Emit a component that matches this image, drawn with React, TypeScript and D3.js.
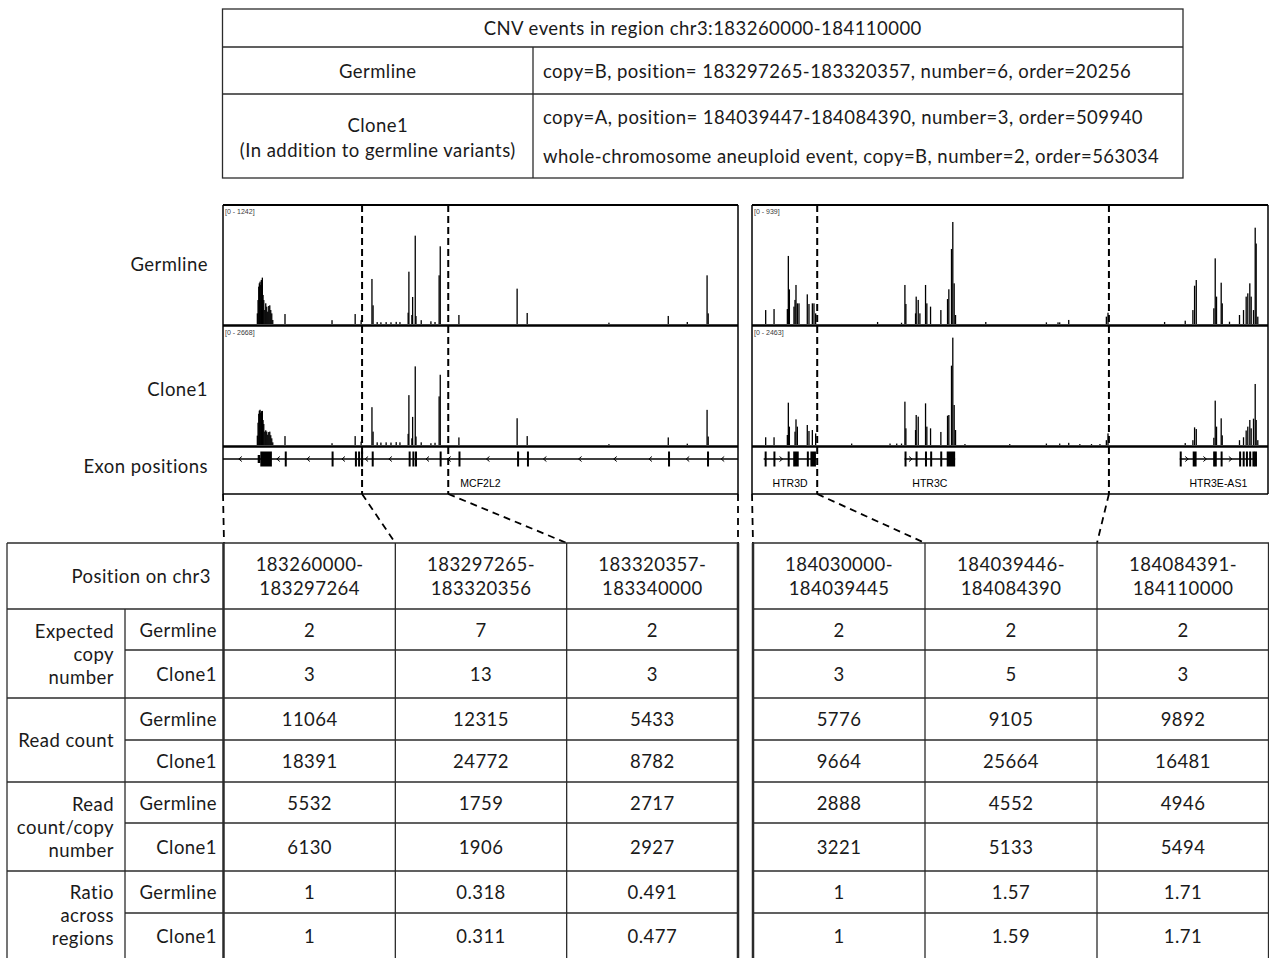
import React from "react";
import * as d3 from "d3";

// ---------- CNV event summary ----------
const regionTitle = "CNV events in region chr3:183260000-184110000";
const eventSamples = ["Germline", "Clone1"];
const eventSampleNotes = ["", "(In addition to germline variants)"];
const germlineEvents = ["copy=B, position= 183297265-183320357, number=6, order=20256"];
const clone1Events = [
  "copy=A, position= 184039447-184084390, number=3, order=509940",
  "whole-chromosome aneuploid event, copy=B, number=2, order=563034",
];

// ---------- coverage tracks ----------
const leftWindow: [number, number] = [183260000, 183398000];
const rightWindow: [number, number] = [184029400, 184108900];
const leftBreakpoints = [183297265, 183320357];
const rightBreakpoints = [184039446, 184084391];
const trackRowLabels = ["Germline", "Clone1", "Exon positions"];
const leftRangeMax = [1242, 2668];
const rightRangeMax = [939, 2463];

// [offset from window start (kb), read depth]
const leftGermlineCov: [number, number][] = [
  [9.19, 111], [9.38, 250], [9.57, 390], [9.73, 425], [9.92, 442], [10.1, 407], [10.26, 460],
  [10.53, 484], [10.72, 303], [10.91, 250], [11.18, 146], [11.44, 216], [11.71, 181], [11.98, 129],
  [12.25, 188], [12.52, 195], [12.78, 146], [13.05, 111], [13.32, 42],
  [16.6, 104], [29.2, 40], [35.4, 104], [37.0, 40], [39.9, 470], [40.2, 195],
  [41.3, 20], [42.3, 18], [43.7, 20], [45.0, 18], [46.4, 22], [47.4, 20],
  [49.6, 118], [49.8, 546], [50.6, 94], [50.8, 282], [51.5, 922], [51.7, 83], [53.1, 40],
  [55.7, 28], [56.8, 21], [57.9, 508], [58.2, 811], [63.2, 94], [78.8, 369], [81.5, 115],
  [103.4, 14], [119.3, 84], [124.4, 21], [129.7, 508], [130.0, 111],
];
const leftClone1Cov: [number, number][] = [
  [9.19, 210], [9.38, 500], [9.57, 700], [9.73, 770], [9.92, 790], [10.1, 720], [10.26, 760],
  [10.53, 765], [10.72, 560], [10.91, 470], [11.18, 300], [11.44, 330], [11.71, 300], [11.98, 230],
  [12.25, 290], [12.52, 300], [12.78, 220], [13.05, 150], [13.32, 60],
  [16.6, 200], [29.2, 40], [35.4, 200], [37.0, 75], [39.9, 848], [40.2, 300],
  [41.3, 60], [42.3, 55], [43.7, 60], [45.0, 55], [46.4, 65], [47.4, 60],
  [49.6, 250], [49.8, 1118], [50.6, 150], [50.8, 630], [51.5, 1763], [51.7, 190], [53.1, 60],
  [55.7, 40], [56.8, 50], [57.9, 1090], [58.2, 1575], [63.2, 170], [78.8, 600], [81.5, 200],
  [103.4, 20], [119.3, 170], [124.4, 30], [129.7, 788], [130.0, 190],
];
const rightGermlineCov: [number, number][] = [
  [2.1, 110], [3.39, 118], [5.44, 118], [5.59, 537], [5.75, 273], [6.46, 137], [6.62, 190],
  [6.77, 308], [6.98, 163], [7.23, 163], [8.51, 234], [8.77, 158], [9.29, 163], [9.54, 163],
  [9.8, 84], [19.34, 16], [23.03, 10], [23.55, 308], [23.7, 158], [25.19, 84], [25.29, 216],
  [25.6, 190], [25.86, 84], [26.73, 308], [26.93, 163], [27.5, 137], [29.09, 110], [30.12, 197],
  [30.32, 274], [30.73, 592], [30.93, 805], [31.14, 321], [31.35, 71], [36.01, 16], [45.35, 13],
  [47.14, 13], [47.4, 13], [48.79, 32], [54.59, 58], [54.84, 89], [63.56, 16], [66.74, 26],
  [67.92, 110], [68.18, 302], [68.44, 347], [71.15, 124], [71.36, 518], [71.56, 216], [72.28, 326],
  [72.44, 163], [73.56, 18], [75.1, 71], [75.72, 110], [76.13, 216], [76.38, 242], [76.69, 321],
  [76.9, 216], [77.26, 110], [77.52, 760], [77.67, 635], [77.92, 58],
];
const rightClone1Cov: [number, number][] = [
  [2.1, 160], [3.39, 160], [5.44, 207], [5.59, 876], [5.75, 380], [6.62, 276], [6.77, 531],
  [6.98, 380], [8.51, 414], [8.77, 290], [9.29, 310], [9.8, 240], [15.35, 30], [21.26, 30],
  [22.29, 30], [23.03, 30], [23.55, 897], [23.7, 345], [25.19, 310], [25.29, 621], [25.6, 587],
  [26.73, 862], [26.93, 380], [27.5, 345], [29.09, 270], [30.12, 607], [30.32, 621], [30.73, 1642],
  [30.93, 2222], [31.14, 828], [31.35, 310], [32.8, 20], [39.7, 20], [45.35, 30], [47.4, 30],
  [48.79, 45], [50.5, 20], [52.3, 20], [53.6, 20], [54.59, 100], [54.84, 240], [66.74, 40],
  [67.92, 100], [68.18, 365], [68.44, 330], [71.15, 150], [71.36, 918], [71.56, 380], [72.28, 552],
  [72.44, 200], [75.1, 100], [75.72, 160], [76.13, 300], [76.38, 380], [76.69, 518], [76.9, 345],
  [77.26, 545], [77.52, 1263], [77.67, 518], [77.92, 100],
];

// gene models: span and exons in kb from window start
type Exon = [number, number, "utr" | "cds"];
interface Gene { name: string; strand: "+" | "-"; span: [number, number]; exons: Exon[] }
const leftGenes: Gene[] = [
  {
    name: "MCF2L2", strand: "-", span: [-2, 140],
    exons: [
      [9.3, 10.0, "utr"], [10.0, 13.1, "cds"], [16.55, 16.65, "cds"], [29.1, 29.2, "cds"],
      [35.35, 35.45, "cds"], [36.2, 36.3, "cds"], [37.0, 37.1, "cds"], [39.85, 39.95, "cds"],
      [49.75, 49.85, "cds"], [50.75, 50.85, "cds"], [51.45, 51.55, "cds"], [58.05, 58.15, "cds"],
      [63.1, 63.2, "cds"], [78.8, 78.9, "cds"], [81.45, 81.55, "cds"], [119.25, 119.35, "cds"],
      [129.7, 129.8, "cds"],
    ],
  },
];
const rightGenes: Gene[] = [
  {
    name: "HTR3D", strand: "+", span: [1.8, 9.95],
    exons: [[1.95, 2.1, "cds"], [3.3, 3.45, "cds"], [5.5, 5.65, "cds"], [6.35, 7.2, "cds"],
      [8.45, 8.6, "cds"], [9.0, 9.85, "cds"]],
  },
  {
    name: "HTR3C", strand: "+", span: [23.5, 31.3],
    exons: [[23.5, 23.65, "cds"], [25.2, 25.35, "cds"], [26.65, 26.8, "cds"], [27.45, 27.6, "cds"],
      [29.0, 29.15, "cds"], [30.0, 31.3, "cds"]],
  },
  {
    name: "HTR3E-AS1", strand: "+", span: [65.9, 77.8],
    exons: [[65.9, 66.05, "cds"], [67.9, 68.5, "cds"], [71.05, 71.2, "cds"], [71.3, 71.55, "cds"],
      [72.2, 72.35, "cds"], [75.05, 75.2, "cds"], [75.6, 75.75, "cds"], [76.1, 76.25, "cds"],
      [76.6, 76.75, "cds"], [77.1, 77.25, "cds"], [77.35, 77.8, "cds"]],
  },
];

// ---------- per-region read summary ----------
const regionStarts = ["183260000-", "183297265-", "183320357-", "184030000-", "184039446-", "184084391-"];
const regionEnds = ["183297264", "183320356", "183340000", "184039445", "184084390", "184110000"];
const metricGroups = [
  ["Expected", "copy", "number"],
  ["Read count"],
  ["Read", "count/copy", "number"],
  ["Ratio", "across", "regions"],
];
const sampleNames = ["Germline", "Clone1"];
const expectedGermline = ["2", "7", "2", "2", "2", "2"];
const expectedClone1 = ["3", "13", "3", "3", "5", "3"];
const readGermline = ["11064", "12315", "5433", "5776", "9105", "9892"];
const readClone1 = ["18391", "24772", "8782", "9664", "25664", "16481"];
const perCopyGermline = ["5532", "1759", "2717", "2888", "4552", "4946"];
const perCopyClone1 = ["6130", "1906", "2927", "3221", "5133", "5494"];
const ratioGermline = ["1", "0.318", "0.491", "1", "1.57", "1.71"];
const ratioClone1 = ["1", "0.311", "0.477", "1", "1.59", "1.71"];

const FONT = "Lato, 'Open Sans', sans-serif";
const IGV_FONT = "'Liberation Sans Narrow', 'Liberation Sans', Arial, sans-serif";
const INK = "#1a1a1a";
const RULE = "#2b2b2b";
const FS = 18.5;
const LS = 0.45;

// ---------- layout ----------
const TOP = { x0: 222.5, x1: 1183, y0: 9, y1: 178, rows: [47, 94], split: 533 };
const TRACK = { top: 205, gBase: 324, sep1: 325.5, cTop: 326, cBase: 445, sep2: 446.5, gene: 459, bottom: 494 };
const PANELS = [
  { x0: 223, x1: 738, window: leftWindow, breaks: leftBreakpoints, max: leftRangeMax,
    cov: [leftGermlineCov, leftClone1Cov], genes: leftGenes },
  { x0: 752, x1: 1268, window: rightWindow, breaks: rightBreakpoints, max: rightRangeMax,
    cov: [rightGermlineCov, rightClone1Cov], genes: rightGenes },
];
const TABLE = {
  left: 7, labelSplit: 125, dataStart: 223.5, top: 543, header: 609,
  blocks: [[224, 738], [753, 1269]] as [number, number][],
  rowBounds: [609, 650, 698, 740, 782, 823, 871, 913, 958],
};

function CoverageTrack({ x, data, max, base, top }: {
  x: d3.ScaleLinear<number, number>; data: [number, number][]; max: number; base: number; top: number;
}) {
  const y = d3.scaleLinear().domain([0, max]).range([base, top]);
  return (
    <g>
      {data.map(([kb, v], i) => {
        const px = x(kb);
        return <rect key={i} x={px - 0.6} y={y(v)} width={1.3} height={base - y(v)} fill="#000" />;
      })}
    </g>
  );
}

function GeneTrack({ x, genes, x0, x1 }: {
  x: d3.ScaleLinear<number, number>; genes: Gene[]; x0: number; x1: number;
}) {
  const cy = TRACK.gene;
  return (
    <g>
      {genes.map((g) => {
        const s = Math.max(x0, x(g.span[0]));
        const e = Math.min(x1, x(g.span[1]));
        const exPx = g.exons.map(([a, b]) => [x(a), x(b)]);
        // strand chevrons in the intron gaps
        const arrows: number[] = [];
        const stops = [s, ...exPx.flat(), e].sort((a, b) => a - b);
        for (let i = 0; i + 1 < stops.length; i += 2) {
          const a = stops[i], b = stops[i + 1];
          const gap = b - a;
          if (gap < 10) continue;
          const n = Math.max(1, Math.floor(gap / 32));
          for (let k = 0; k < n; k++) arrows.push(a + (gap * (k + 0.5)) / n);
        }
        const labelX = (s + e) / 2;
        return (
          <g key={g.name}>
            <line x1={s} x2={e} y1={cy} y2={cy} stroke="#000" strokeWidth={1.3} />
            {arrows.map((ax, i) => (
              <path key={i}
                d={g.strand === "-" ? `M${ax + 1.5},${cy - 2.5}L${ax - 1.5},${cy}L${ax + 1.5},${cy + 2.5}`
                  : `M${ax - 1.5},${cy - 2.5}L${ax + 1.5},${cy}L${ax - 1.5},${cy + 2.5}`}
                fill="none" stroke="#000" strokeWidth={1} />
            ))}
            {g.exons.map(([a, b, kind], i) => {
              const w = Math.max(2, x(b) - x(a));
              const h = kind === "utr" ? 8 : 15;
              return <rect key={i} x={x(a)} y={cy - h / 2} width={w} height={h} fill="#000" />;
            })}
            <text x={labelX} y={TRACK.bottom - 7} textAnchor="middle" fontFamily={IGV_FONT}
              fontSize={10.5} fill="#000">{g.name}</text>
          </g>
        );
      })}
    </g>
  );
}

function Panel({ p }: { p: (typeof PANELS)[number] }) {
  const x = d3.scaleLinear().domain([0, (p.window[1] - p.window[0]) / 1000]).range([p.x0, p.x1]);
  const gx = d3.scaleLinear().domain(p.window).range([p.x0, p.x1]);
  return (
    <g>
      <CoverageTrack x={x} data={p.cov[0]} max={p.max[0]} base={TRACK.gBase} top={TRACK.top} />
      <CoverageTrack x={x} data={p.cov[1]} max={p.max[1]} base={TRACK.cBase} top={TRACK.cTop} />
      <GeneTrack x={x} genes={p.genes} x0={p.x0} x1={p.x1} />
      <text x={p.x0 + 2} y={TRACK.top + 9} fontFamily={IGV_FONT} fontSize={7} fill="#3a3a3a">{`[0 - ${p.max[0]}]`}</text>
      <text x={p.x0 + 2} y={TRACK.sep1 + 9} fontFamily={IGV_FONT} fontSize={7} fill="#3a3a3a">{`[0 - ${p.max[1]}]`}</text>
      {/* frame */}
      <line x1={p.x0} x2={p.x1} y1={TRACK.top} y2={TRACK.top} stroke="#000" strokeWidth={2} />
      <line x1={p.x0} x2={p.x1} y1={TRACK.sep1} y2={TRACK.sep1} stroke="#000" strokeWidth={2.5} />
      <line x1={p.x0} x2={p.x1} y1={TRACK.sep2} y2={TRACK.sep2} stroke="#000" strokeWidth={2.5} />
      <line x1={p.x0} x2={p.x1} y1={TRACK.bottom} y2={TRACK.bottom} stroke="#000" strokeWidth={1.5} />
      <line x1={p.x0} x2={p.x0} y1={TRACK.top} y2={TRACK.bottom} stroke="#000" strokeWidth={1.5} />
      <line x1={p.x1} x2={p.x1} y1={TRACK.top} y2={TRACK.bottom} stroke="#000" strokeWidth={1.5} />
      {/* breakpoints */}
      {p.breaks.map((b, i) => (
        <line key={i} x1={gx(b)} x2={gx(b)} y1={TRACK.top} y2={TRACK.bottom} stroke="#000"
          strokeWidth={2} strokeDasharray="7,4" />
      ))}
    </g>
  );
}

export default function App() {
  const leftX = d3.scaleLinear().domain(leftWindow).range([PANELS[0].x0, PANELS[0].x1]);
  const rightX = d3.scaleLinear().domain(rightWindow).range([PANELS[1].x0, PANELS[1].x1]);

  // table columns
  const colEdges: number[][] = TABLE.blocks.map(([a, b]) => d3.range(4).map((k) => a + ((b - a) * k) / 3));
  const cols = colEdges.flatMap((e) => [0, 1, 2].map((k) => [e[k], e[k + 1]]));
  const colCenter = cols.map(([a, b]) => (a + b) / 2);

  const valueRows = [expectedGermline, expectedClone1, readGermline, readClone1,
    perCopyGermline, perCopyClone1, ratioGermline, ratioClone1];
  const rb = TABLE.rowBounds;

  // connector lines from panels down to the table
  const connectors: [number, number, number][] = [
    [PANELS[0].x0, TRACK.bottom, colEdges[0][0]],
    [leftX(leftBreakpoints[0]), TRACK.bottom, colEdges[0][1]],
    [leftX(leftBreakpoints[1]), TRACK.bottom, colEdges[0][2]],
    [PANELS[0].x1, TRACK.bottom, colEdges[0][3]],
    [PANELS[1].x0, TRACK.bottom, colEdges[1][0]],
    [rightX(rightBreakpoints[0]), TRACK.bottom, colEdges[1][1]],
    [rightX(rightBreakpoints[1]), TRACK.bottom, colEdges[1][2]],
  ];

  const txt = (x: number, y: number, s: string, anchor: "start" | "middle" | "end" = "middle", key?: any) => (
    <text key={key} x={x} y={y} textAnchor={anchor} dominantBaseline="central" fontFamily={FONT}
      fontSize={FS} letterSpacing={LS} fill={INK}>{s}</text>
  );

  const hline = (x1: number, x2: number, y: number, w = 1.3, key?: any) => (
    <line key={key} x1={x1} x2={x2} y1={y} y2={y} stroke={RULE} strokeWidth={w} />
  );
  const vline = (x: number, y1: number, y2: number, w = 1.3, key?: any) => (
    <line key={key} x1={x} x2={x} y1={y1} y2={y2} stroke={RULE} strokeWidth={w} />
  );

  return (
    <svg width={1269} height={958} style={{ position: "absolute", left: 0, top: 0, background: "#fff" }}>
      <rect width={1269} height={958} fill="#fff" />

      {/* event summary */}
      <rect x={TOP.x0} y={TOP.y0} width={TOP.x1 - TOP.x0} height={TOP.y1 - TOP.y0} fill="none" stroke={RULE} strokeWidth={1.3} />
      {hline(TOP.x0, TOP.x1, TOP.rows[0])}
      {hline(TOP.x0, TOP.x1, TOP.rows[1])}
      {vline(TOP.split, TOP.rows[0], TOP.y1)}
      {txt((TOP.x0 + TOP.x1) / 2, 28, regionTitle)}
      {txt((TOP.x0 + TOP.split) / 2, 70.5, eventSamples[0])}
      {txt(TOP.split + 10, 70.5, germlineEvents[0], "start")}
      {txt((TOP.x0 + TOP.split) / 2, 125, eventSamples[1])}
      {txt((TOP.x0 + TOP.split) / 2, 150, eventSampleNotes[1])}
      {txt(TOP.split + 10, 117, clone1Events[0], "start")}
      {txt(TOP.split + 10, 156, clone1Events[1], "start")}

      {/* track row labels */}
      {txt(208, 264, trackRowLabels[0], "end")}
      {txt(208, 389, trackRowLabels[1], "end")}
      {txt(208, 466, trackRowLabels[2], "end")}

      {PANELS.map((p, i) => <Panel key={i} p={p} />)}

      {connectors.map(([x1, y1, x2], i) => (
        <line key={i} x1={x1} y1={y1} x2={x2} y2={TABLE.top} stroke="#000" strokeWidth={1.8} strokeDasharray="7,5" />
      ))}

      {/* read summary table */}
      {TABLE.blocks.map(([a, b], i) => (
        <g key={i}>
          {hline(i === 0 ? TABLE.left : a, b, TABLE.top, 1.5)}
          {hline(i === 0 ? TABLE.left : a, b, TABLE.header, 1.5)}
          {[1, 3, 5].map((r) => hline(i === 0 ? TABLE.left : a, b, rb[r + 1], 1.3, r))}
          {[0, 2, 4, 6].map((r) => hline(i === 0 ? TABLE.labelSplit : a, b, rb[r + 1], 1.3, r))}
        </g>
      ))}
      {vline(TABLE.left, TABLE.top, 958, 1.3)}
      {vline(TABLE.labelSplit, TABLE.header, 958, 1.3)}
      {vline(TABLE.dataStart, TABLE.top, 958, 2.5)}
      {vline(colEdges[0][3], TABLE.top, 958, 2.5)}
      {vline(colEdges[1][0], TABLE.top, 958, 2.5)}
      {[colEdges[0][1], colEdges[0][2], colEdges[1][1], colEdges[1][2]].map((x, i) => vline(x, TABLE.top, 958, 1.3, i))}
      {vline(1268.5, TABLE.top, 958, 1.3)}

      {txt(211, 576, "Position on chr3", "end")}
      {colCenter.map((cx, i) => (
        <g key={i}>
          {txt(cx, 564, regionStarts[i])}
          {txt(cx, 588, regionEnds[i])}
        </g>
      ))}

      {metricGroups.map((lines, g) => {
        const yTop = rb[g * 2], yBot = rb[g * 2 + 2];
        const mid = (yTop + yBot) / 2;
        const lh = 23;
        return lines.map((l, k) => txt(114, mid + (k - (lines.length - 1) / 2) * lh, l, "end", `${g}-${k}`));
      })}
      {valueRows.map((row, r) => {
        const mid = (rb[r] + rb[r + 1]) / 2;
        return (
          <g key={r}>
            {txt(217, mid, sampleNames[r % 2], "end")}
            {row.map((v, c) => txt(colCenter[c], mid, v, "middle", c))}
          </g>
        );
      })}
    </svg>
  );
}
